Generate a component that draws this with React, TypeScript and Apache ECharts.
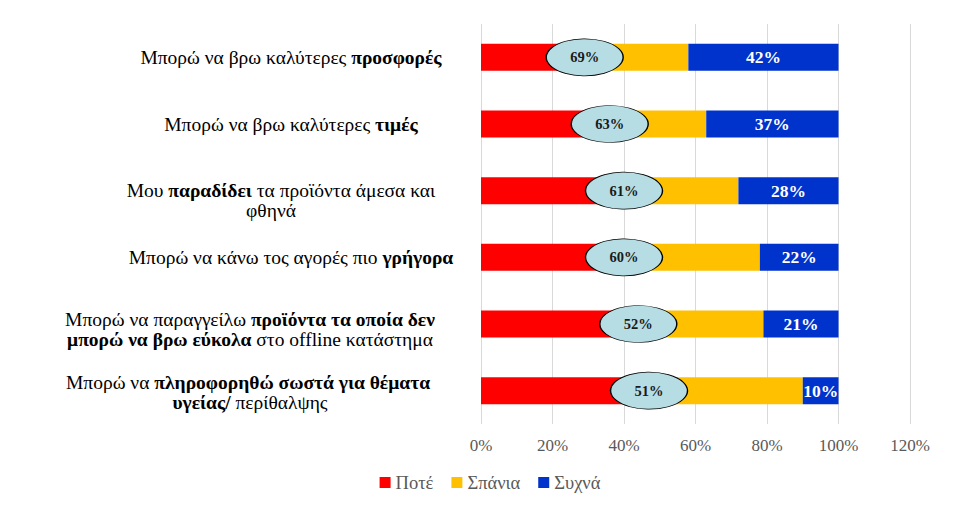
import React, { useEffect, useRef } from "react";
import * as echarts from "echarts";

// Category labels (top to bottom); **text** marks bold parts, \n marks line breaks
const categories: string[] = [
  "Μπορώ να βρω καλύτερες **προσφορές**",
  "Μπορώ να βρω καλύτερες **τιμές**",
  "Μου **παραδίδει** τα προϊόντα άμεσα και\nφθηνά",
  "Μπορώ να κάνω τος αγορές πιο **γρήγορα**",
  "Μπορώ να παραγγείλω **προϊόντα τα οποία δεν**\n**μπορώ να βρω εύκολα** στο offline κατάστημα",
  "Μπορώ να **πληροφορηθώ σωστά για θέματα**\n**υγείας/** περίθαλψης",
];

const seriesNames = ["Ποτέ", "Σπάνια", "Συχνά"];
const never: number[] = [29, 36, 40, 40, 44, 47];
const rarely: number[] = [29, 27, 32, 38, 35, 43];
const often: number[] = [42, 37, 28, 22, 21, 10];
const highlight: number[] = [69, 63, 61, 60, 52, 51];

const xTicks = { min: 0, max: 120, interval: 20 };

// layout only: per-line horizontal shift (px*2) and vertical drop (px*2) of category labels
const labelLineShift: number[][] = [[0], [0], [20, 40], [0], [82, 82], [86, 82]];
const labelDrop: number[] = [0, 0, 20, 0, 10, 3];

const SERIF = "Liberation Serif";
const FS = 19.5;
const LH = 20;

function buildLabel(text: string, idx: number): string {
  const lines = text.split("\n");
  const body = lines
    .map((line, li) => {
      const parts = line.split("**");
      let out = "";
      parts.forEach((p, pi) => {
        if (!p) return;
        out += `{${pi % 2 === 1 ? "b" : "n"}|${p}}`;
      });
      const sh = (labelLineShift[idx] || [])[li] || 0;
      if (sh > 0) out += `{sp${sh}| }`;
      return out;
    })
    .join("\n");
  const drop = labelDrop[idx] || 0;
  return drop > 0 ? `{dr${drop}| }\n` + body : body;
}

export default function App() {
  const ref = useRef<HTMLDivElement>(null);
  useEffect(() => {
    if (!ref.current) return;
    const chart = echarts.init(ref.current, null, { renderer: "svg" });
    const rich: any = {
      n: { fontFamily: SERIF, fontSize: FS, color: "#000", lineHeight: LH },
      b: { fontFamily: SERIF, fontSize: FS, color: "#000", fontWeight: "bold", lineHeight: LH },
    };
    labelLineShift.flat().forEach((s) => {
      if (s > 0) rich["sp" + s] = { width: s, fontSize: FS, lineHeight: LH, fontFamily: SERIF };
    });
    labelDrop.forEach((d) => {
      if (d > 0) rich["dr" + d] = { height: d, lineHeight: d, fontSize: 1, fontFamily: SERIF };
    });
    const colors = ["#ff0000", "#ffc000", "#0033cc"];
    const option: any = {
      animation: false,
      textStyle: { fontFamily: SERIF },
      grid: { left: 481, right: 70, top: 24, bottom: 87, containLabel: false },
      legend: {
        data: seriesNames,
        left: "center",
        top: 468,
        icon: "rect",
        itemWidth: 11,
        itemHeight: 11,
        itemGap: 18,
        textStyle: { fontFamily: SERIF, fontSize: 18.5, color: "#595959" },
      },
      xAxis: {
        type: "value",
        min: xTicks.min,
        max: xTicks.max,
        interval: xTicks.interval,
        axisLine: { show: false },
        axisTick: { show: false },
        splitLine: { show: true, lineStyle: { color: "#d9d9d9", width: 1 } },
        axisLabel: {
          formatter: "{value}%",
          fontFamily: SERIF,
          fontSize: 17,
          color: "#595959",
          margin: 13,
        },
      },
      yAxis: {
        type: "category",
        inverse: true,
        data: categories,
        axisLine: { show: false },
        axisTick: { show: false },
        splitLine: { show: false },
        axisLabel: {
          align: "center",
          margin: 190,
          fontFamily: SERIF,
          fontSize: FS,
          formatter: (v: string, i: number) => buildLabel(v, i),
          rich,
        },
      },
      series: [
        {
          name: seriesNames[0],
          type: "bar",
          stack: "t",
          data: never,
          barWidth: 27,
          itemStyle: { color: colors[0] },
        },
        {
          name: seriesNames[1],
          type: "bar",
          stack: "t",
          data: rarely,
          barWidth: 27,
          itemStyle: { color: colors[1] },
        },
        {
          name: seriesNames[2],
          type: "bar",
          stack: "t",
          data: often,
          barWidth: 27,
          itemStyle: { color: colors[2] },
          label: {
            show: true,
            position: "inside",
            formatter: "{c}%",
            color: "#fff",
            fontWeight: "bold",
            fontFamily: SERIF,
            fontSize: 17.5,
          },
        },
        {
          name: "highlight",
          type: "scatter",
          data: highlight.map((h, i) => [never[i], i, h]),
          symbol: "circle",
          symbolSize: [77, 37],
          z: 10,
          itemStyle: { color: "#b7dde4", borderColor: "#000", borderWidth: 1, opacity: 1 },
          label: {
            show: true,
            position: "inside",
            formatter: (p: any) => p.value[2] + "%",
            color: "#1a1a1a",
            fontWeight: "bold",
            fontFamily: SERIF,
            fontSize: 14.5,
          },
          emphasis: { disabled: true },
        },
      ],
    };
    chart.setOption(option);
    return () => chart.dispose();
  }, []);
  return (
    <div
      ref={ref}
      style={{ position: "fixed", left: 0, top: 0, width: 980, height: 511, background: "#fff" }}
    />
  );
}
